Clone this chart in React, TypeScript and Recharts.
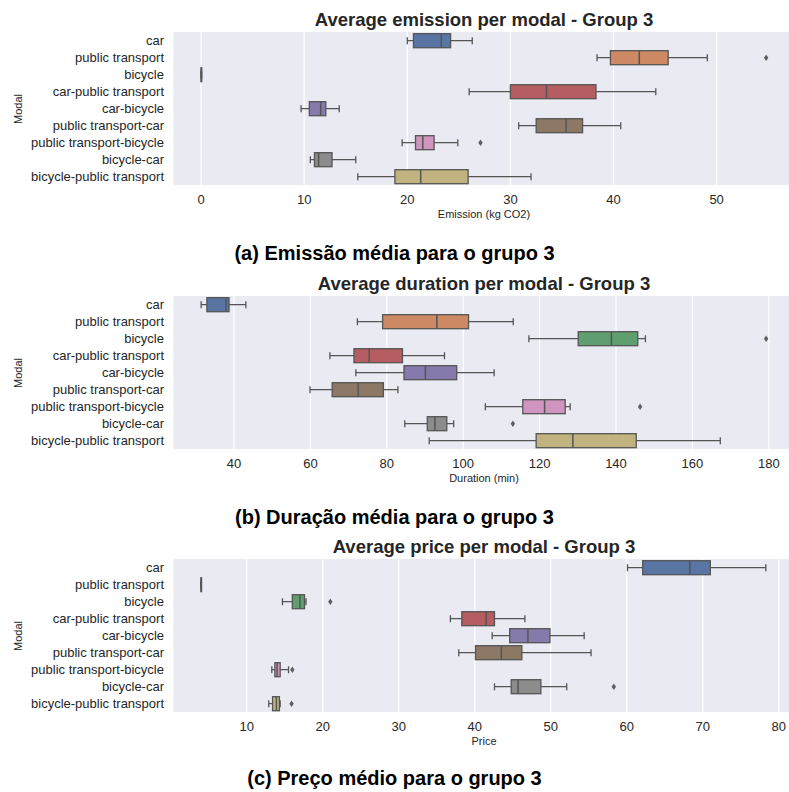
import React from "react";
import { ComposedChart, Bar, XAxis, YAxis, CartesianGrid } from "recharts";

// categories and colours (seaborn "deep", desaturated like sns.boxplot does)
const modals = [
  "car",
  "public transport",
  "bicycle",
  "car-public transport",
  "car-bicycle",
  "public transport-car",
  "public transport-bicycle",
  "bicycle-car",
  "bicycle-public transport",
];
const modalColors = ["#5975A3", "#CC8963", "#5F9E6E", "#B55D60", "#857AAB", "#8D7866", "#D095BF", "#8C8C8C", "#C1B37F"];

// [whisker low, Q1, median, Q3, whisker high]
const emissionStats = [
  [20.0, 20.6, 23.3, 24.2, 26.3],
  [38.4, 39.7, 42.5, 45.3, 49.1],
  [0, 0, 0.03, 0.06, 0.06],
  [26.0, 30.0, 33.5, 38.3, 44.1],
  [9.7, 10.5, 11.6, 12.1, 13.4],
  [30.8, 32.5, 35.4, 37.0, 40.7],
  [19.5, 20.8, 21.5, 22.6, 24.9],
  [10.6, 11.0, 11.4, 12.7, 15.0],
  [15.2, 18.8, 21.3, 25.9, 32.0],
];
const emissionOutliers = [[], [54.8], [], [], [], [], [27.1], [], []];

const durationStats = [
  [31.4, 32.9, 37.9, 38.7, 43.1],
  [72.3, 78.9, 93.1, 101.4, 113.1],
  [117.2, 130.1, 138.8, 145.7, 147.7],
  [65.1, 71.4, 75.4, 84.1, 95.1],
  [71.9, 84.5, 90.1, 98.3, 108.1],
  [59.9, 65.7, 72.5, 79.1, 82.9],
  [105.8, 115.6, 121.3, 126.7, 128.0],
  [84.7, 90.6, 92.6, 95.7, 97.5],
  [91.1, 119.1, 128.7, 145.3, 167.3],
];
const durationOutliers = [[], [], [179.3], [], [], [], [146.3], [113.0], []];

const priceStats = [
  [60.1, 62.1, 68.3, 71.0, 78.3],
  [3.98, 3.99, 4.0, 4.01, 4.02],
  [14.7, 16.0, 17.0, 17.6, 17.8],
  [36.8, 38.3, 41.5, 42.6, 46.6],
  [42.3, 44.6, 47.0, 49.9, 54.4],
  [37.9, 40.1, 43.5, 46.2, 55.3],
  [13.3, 13.7, 14.0, 14.4, 15.5],
  [42.6, 44.8, 45.7, 48.7, 52.1],
  [12.9, 13.4, 13.9, 14.3, 14.4],
];
const priceOutliers = [[], [], [21.0], [], [], [], [16.0], [58.3], [15.9]];

const emissionTicks = [0, 10, 20, 30, 40, 50];
const durationTicks = [40, 60, 80, 100, 120, 140, 160, 180];
const priceTicks = [10, 20, 30, 40, 50, 60, 70, 80];

const FONT = "'Liberation Sans', Arial, Helvetica, sans-serif";
const EDGE = "#555555";

const buildData = (stats: number[][], outliers: number[][]) =>
  modals.map((name, i) => {
    const all = [...stats[i], ...outliers[i]];
    return {
      name,
      color: modalColors[i],
      stats: stats[i],
      outliers: outliers[i],
      range: [Math.min(...all), Math.max(...all)],
    };
  });

// draws one horizontal box from the range bar that recharts lays out
const BoxShape = (props: any) => {
  const { x, y, width, height, payload } = props;
  const [lo, hi] = payload.range;
  const px = (v: number) => (hi === lo ? x : x + ((v - lo) / (hi - lo)) * width);
  const [wl, q1, med, q3, wh] = payload.stats;
  const cy = y + height / 2;
  const capH = height / 4;
  return (
    <g>
      <line x1={px(wl)} x2={px(q1)} y1={cy} y2={cy} stroke={EDGE} strokeWidth={1.3} />
      <line x1={px(q3)} x2={px(wh)} y1={cy} y2={cy} stroke={EDGE} strokeWidth={1.3} />
      <line x1={px(wl)} x2={px(wl)} y1={cy - capH} y2={cy + capH} stroke={EDGE} strokeWidth={1.3} />
      <line x1={px(wh)} x2={px(wh)} y1={cy - capH} y2={cy + capH} stroke={EDGE} strokeWidth={1.3} />
      <rect x={px(q1)} y={y} width={Math.max(px(q3) - px(q1), 0.5)} height={height} fill={payload.color} stroke={EDGE} strokeWidth={1.3} />
      <line x1={px(med)} x2={px(med)} y1={y} y2={y + height} stroke={EDGE} strokeWidth={1.5} />
      {payload.outliers.map((o: number, k: number) => {
        const ox = px(o);
        return <path key={k} d={`M${ox},${cy - 3.2} L${ox + 2.2},${cy} L${ox},${cy + 3.2} L${ox - 2.2},${cy} Z`} fill="#5f5f5f" />;
      })}
    </g>
  );
};

type PanelProps = {
  top: number;
  title: string;
  xLabel: string;
  caption: string;
  captionY: number;
  data: any[];
  domain: [number, number];
  ticks: number[];
};

const PLOT_H = 153;

function Panel({ top, title, xLabel, caption, captionY, data, domain, ticks }: PanelProps) {
  return (
    <>
      <div style={{ position: "absolute", left: 173, width: 622, top: top - 24, height: 24, lineHeight: "24px", textAlign: "center", fontWeight: "bold", fontSize: 18.5, color: "#262626" }}>
        {title}
      </div>
      <div style={{ position: "absolute", left: 0, top }}>
        <ComposedChart
          width={800}
          height={PLOT_H + 30}
          data={data}
          layout="vertical"
          margin={{ top: 0, right: 5, bottom: 0, left: 0 }}
          barCategoryGap="10%"
          style={{ fontFamily: FONT }}
        >
          <CartesianGrid horizontal={false} stroke="#ffffff" strokeWidth={1.2} fill="#EAEAF2" fillOpacity={1} />
          <XAxis
            type="number"
            domain={domain}
            ticks={ticks}
            allowDataOverflow
            axisLine={false}
            tickLine={false}
            tickSize={0}
            tickMargin={10}
            height={30}
            interval={0}
            tick={{ fill: "#262626", fontSize: 13, fontFamily: FONT }}
          />
          <YAxis
            type="category"
            dataKey="name"
            width={173}
            axisLine={false}
            tickLine={false}
            tickSize={0}
            tickMargin={9}
            interval={0}
            tick={{ fill: "#262626", fontSize: 13, fontFamily: FONT }}
          />
          <Bar dataKey="range" shape={BoxShape} isAnimationActive={false} />
        </ComposedChart>
      </div>
      <div style={{ position: "absolute", left: 173, width: 622, top: top + PLOT_H + 22, height: 14, lineHeight: "14px", textAlign: "center", fontSize: 11, color: "#262626" }}>
        {xLabel}
      </div>
      <div
        style={{
          position: "absolute",
          left: 18 - 40,
          width: 80,
          top: top + PLOT_H / 2 - 7,
          height: 14,
          lineHeight: "14px",
          textAlign: "center",
          fontSize: 11,
          color: "#262626",
          transform: "rotate(-90deg)",
        }}
      >
        Modal
      </div>
      <div style={{ position: "absolute", left: 0, width: 789, top: captionY - 14, height: 28, lineHeight: "28px", textAlign: "center", fontWeight: "bold", fontSize: 20, color: "#000" }}>
        {caption}
      </div>
    </>
  );
}

export default function App() {
  const emissionData = buildData(emissionStats, emissionOutliers);
  const durationData = buildData(durationStats, durationOutliers);
  const priceData = buildData(priceStats, priceOutliers);

  return (
    <div style={{ position: "absolute", left: 0, top: 0, width: 789, height: 792, overflow: "hidden", background: "#fff", fontFamily: FONT }}>
      <Panel
        top={32}
        title="Average emission per modal - Group 3"
        xLabel="Emission (kg CO2)"
        caption="(a) Emissão média para o grupo 3"
        captionY={253}
        data={emissionData}
        domain={[-2.72, 57.6]}
        ticks={emissionTicks}
      />
      <Panel
        top={296}
        title="Average duration per modal - Group 3"
        xLabel="Duration (min)"
        caption="(b) Duração média para o grupo 3"
        captionY={517}
        data={durationData}
        domain={[24.03, 186.86]}
        ticks={durationTicks}
      />
      <Panel
        top={559}
        title="Average price per modal - Group 3"
        xLabel="Price"
        caption="(c) Preço médio para o grupo 3"
        captionY={778}
        data={priceData}
        domain={[0.3, 82.14]}
        ticks={priceTicks}
      />
    </div>
  );
}
